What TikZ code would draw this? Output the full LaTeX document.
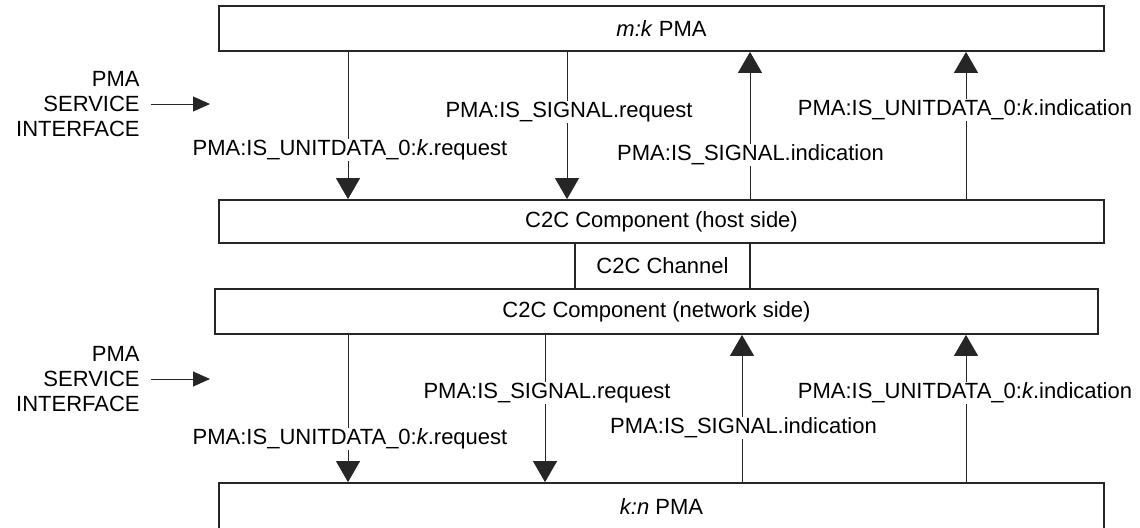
\documentclass[tikz,border=0pt]{standalone}
\usepackage{fontspec}
\setmainfont{Liberation Sans}
\usetikzlibrary{arrows.meta}
\begin{document}
\begin{tikzpicture}[x=0.5pt,y=-0.5pt,
  font=\fontsize{11}{12.5}\selectfont,
  blk/.style={draw=black!85, line width=0.9pt, inner sep=0pt},
  arr/.style={draw=black!85, line width=0.5pt, -{Triangle[width=12pt,length=10.5pt]}},
  sarr/.style={draw=black!85, line width=0.5pt, -{Triangle[width=7.5pt,length=8.5pt]}},
  lbl/.style={fill=white, inner sep=0.3pt},
  side/.style={align=right, anchor=east, inner sep=0pt}]
\useasboundingbox (0,0) rectangle (1140,527);
\clip (0,0) rectangle (1140,527);

% boxes
\node[blk, minimum width=442.5pt, minimum height=22.5pt] (top) at (661.5,28.5) {\textit{m:k} PMA};
\node[blk, minimum width=442.5pt, minimum height=21.5pt] (host) at (661.5,221.5) {C2C Component (host side)};
\node[blk, minimum width=87.5pt, minimum height=23pt] (chan) at (662.5,266) {C2C Channel};
\node[blk, minimum width=441.5pt, minimum height=22.5pt] (net) at (656.5,311.5) {C2C Component (network side)};
\node[blk, minimum width=442.5pt, minimum height=24pt] (bot) at (661.5,507) {\textit{k:n} PMA};

% x positions of the connectors
\coordinate (u1) at (348,0);
\coordinate (u2) at (567,0);
\coordinate (u3) at (750,0);
\coordinate (u4) at (966,0);
\coordinate (d1) at (348,0);
\coordinate (d2) at (545,0);
\coordinate (d3) at (742,0);
\coordinate (d4) at (966,0);

% upper connectors
\draw[arr] (top.south -| u1) -- (host.north -| u1);
\draw[arr] (top.south -| u2) -- (host.north -| u2);
\draw[arr] (host.north -| u3) -- (top.south -| u3);
\draw[arr] (host.north -| u4) -- (top.south -| u4);

% lower connectors
\draw[arr] (net.south -| d1) -- (bot.north -| d1);
\draw[arr] (net.south -| d2) -- (bot.north -| d2);
\draw[arr] (bot.north -| d3) -- (net.south -| d3);
\draw[arr] (bot.north -| d4) -- (net.south -| d4);

% upper labels
\node[lbl] (l1) at (350,150) {PMA:IS\_UNITDATA\_0:\textit{k}.request};
\node[lbl] (l2) at (569,112) {PMA:IS\_SIGNAL.request};
\node[lbl] (l3) at (750.5,155) {PMA:IS\_SIGNAL.indication};
\node[lbl] (l4) at (965,110) {PMA:IS\_UNITDATA\_0:\textit{k}.indication};

% lower labels
\node[lbl] (m1) at (350,439) {PMA:IS\_UNITDATA\_0:\textit{k}.request};
\node[lbl] (m2) at (547,393) {PMA:IS\_SIGNAL.request};
\node[lbl] (m3) at (743.5,428) {PMA:IS\_SIGNAL.indication};
\node[lbl] (m4) at (965,393) {PMA:IS\_UNITDATA\_0:\textit{k}.indication};

% service interface markers
\node[side] (psi1) at (140,104) {PMA\\SERVICE\\INTERFACE};
\coordinate (psi1e) at (210,104);
\draw[sarr] ([xshift=5.5pt]psi1.east) -- (psi1e);

\node[side] (psi2) at (140,379) {PMA\\SERVICE\\INTERFACE};
\coordinate (psi2e) at (210,379);
\draw[sarr] ([xshift=5.5pt]psi2.east) -- (psi2e);
\end{tikzpicture}
\end{document}
